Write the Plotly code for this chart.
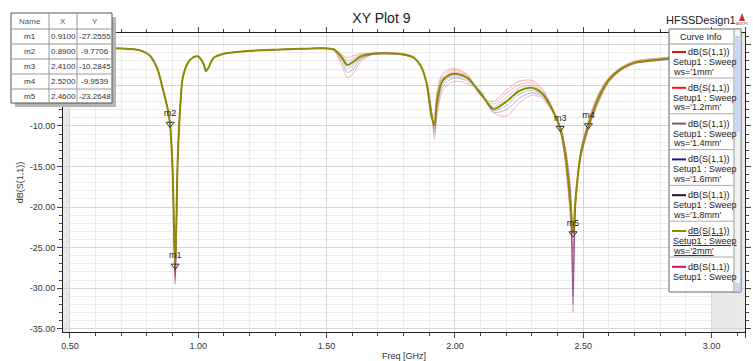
import plotly.graph_objects as go

W, H = 753, 361
ML, MR, MT, MB = 63, 8, 33, 29
FONT = "Liberation Sans, Arial, sans-serif"

# ---------------- data ----------------
freq_ghz = [0.50, 0.60, 0.70, 0.75, 0.78, 0.81, 0.84, 0.86, 0.88, 0.89,
            0.90, 0.91, 0.92, 0.93, 0.94, 0.96, 0.98, 1.00, 1.02, 1.03,
            1.04, 1.06, 1.10, 1.20, 1.30, 1.40, 1.50, 1.53, 1.56, 1.58,
            1.60, 1.63, 1.67, 1.72, 1.80, 1.84, 1.87, 1.89, 1.91, 1.92,
            1.93, 1.95, 1.98, 2.01, 2.05, 2.10, 2.15, 2.20, 2.25, 2.30,
            2.34, 2.38, 2.41, 2.43, 2.45, 2.46, 2.47, 2.49, 2.52, 2.56,
            2.60, 2.65, 2.70, 2.80, 2.90, 3.00]

s11_ws1p0 = [-0.40, -0.40, -0.45, -0.55, -0.75, -1.30, -2.90, -5.20, -7.80, -9.77,
             -15.5, -28.5, -14.0, -7.50, -4.00, -2.20, -1.55, -1.45, -2.30, -3.25,
             -2.80, -1.60, -1.10, -0.75, -0.60, -0.50, -0.45, -0.55, -1.20, -1.60,
             -1.40, -1.15, -1.05, -1.00, -1.10, -1.50, -2.70, -5.00, -8.80, -8.50,
             -5.80, -3.60, -3.00, -3.00, -3.70, -6.30, -7.00, -5.60, -4.50, -4.40,
             -5.40, -7.80, -10.6, -14.5, -21.5, -25.5, -19.5, -13.0, -9.30, -6.00,
             -4.00, -2.70, -2.00, -1.60, -1.35, -1.15]

s11_ws1p2 = [-0.40, -0.40, -0.45, -0.55, -0.75, -1.30, -2.90, -5.20, -7.80, -9.77,
             -15.5, -29.0, -14.0, -7.50, -4.00, -2.20, -1.55, -1.45, -2.30, -3.25,
             -2.80, -1.60, -1.10, -0.75, -0.60, -0.50, -0.45, -0.55, -1.35, -1.90,
             -1.70, -1.30, -1.10, -1.00, -1.15, -1.55, -2.75, -4.90, -9.00, -9.00,
             -6.20, -3.90, -3.20, -3.20, -3.80, -6.20, -7.30, -6.00, -4.90, -4.70,
             -5.60, -7.90, -10.5, -14.2, -21.0, -28.0, -20.0, -13.2, -9.50, -6.10,
             -4.10, -2.80, -2.10, -1.70, -1.40, -1.20]

s11_ws1p4 = [-0.40, -0.40, -0.45, -0.55, -0.75, -1.30, -2.90, -5.20, -7.80, -9.77,
             -15.5, -28.0, -14.0, -7.50, -4.00, -2.20, -1.55, -1.45, -2.30, -3.25,
             -2.80, -1.60, -1.10, -0.75, -0.60, -0.50, -0.45, -0.60, -1.45, -2.20,
             -1.95, -1.40, -1.12, -1.03, -1.18, -1.58, -2.78, -4.85, -9.00, -9.50,
             -6.60, -4.20, -3.45, -3.40, -3.95, -6.10, -7.60, -6.50, -5.30, -5.00,
             -5.80, -7.95, -10.4, -13.9, -20.2, -30.0, -19.5, -13.3, -9.70, -6.30,
             -4.20, -2.85, -2.15, -1.75, -1.45, -1.25]

s11_ws1p6 = [-0.40, -0.40, -0.45, -0.55, -0.75, -1.30, -2.90, -5.20, -7.80, -9.77,
             -15.5, -27.8, -14.0, -7.50, -4.00, -2.20, -1.55, -1.45, -2.30, -3.25,
             -2.80, -1.60, -1.10, -0.75, -0.60, -0.50, -0.45, -0.65, -1.80, -2.90,
             -2.60, -1.70, -1.20, -1.07, -1.22, -1.62, -2.85, -4.75, -8.80, -10.4,
             -7.50, -4.90, -4.00, -3.85, -4.30, -5.90, -8.10, -7.50, -6.10, -5.60,
             -6.20, -8.10, -10.2, -13.2, -18.8, -31.0, -19.0, -13.6, -10.1, -6.70,
             -4.40, -3.00, -2.25, -1.85, -1.55, -1.35]

s11_ws1p8 = [-0.40, -0.40, -0.45, -0.55, -0.75, -1.30, -2.90, -5.20, -7.80, -9.77,
             -15.5, -29.5, -14.0, -7.50, -4.00, -2.20, -1.55, -1.45, -2.30, -3.25,
             -2.80, -1.60, -1.10, -0.75, -0.60, -0.50, -0.45, -0.70, -2.20, -3.40,
             -3.10, -1.90, -1.25, -1.10, -1.25, -1.65, -2.90, -4.70, -8.60, -10.9,
             -8.00, -5.30, -4.30, -4.10, -4.50, -5.80, -8.30, -8.00, -6.60, -5.90,
             -6.40, -8.20, -10.1, -12.9, -18.0, -32.0, -19.0, -13.8, -10.3, -6.90,
             -4.50, -3.05, -2.30, -1.90, -1.60, -1.40]

s11_ws2p0 = [-0.40, -0.40, -0.45, -0.55, -0.75, -1.30, -2.90, -5.20, -7.80, -9.77,
             -15.5, -27.26, -14.0, -7.50, -4.00, -2.20, -1.55, -1.45, -2.30, -3.25,
             -2.80, -1.60, -1.10, -0.75, -0.60, -0.50, -0.45, -0.60, -1.60, -2.50,
             -2.20, -1.50, -1.15, -1.05, -1.20, -1.60, -2.80, -4.80, -9.00, -9.90,
             -7.00, -4.50, -3.70, -3.60, -4.10, -6.00, -7.90, -7.00, -5.70, -5.30,
             -6.00, -8.00, -10.28, -13.5, -19.5, -23.26, -19.0, -13.5, -9.95, -6.50,
             -4.30, -2.90, -2.20, -1.80, -1.50, -1.30]

s11_ws2p2 = [-0.40, -0.40, -0.45, -0.55, -0.75, -1.30, -2.90, -5.20, -7.80, -9.77,
             -15.5, -28.8, -14.0, -7.50, -4.00, -2.20, -1.55, -1.45, -2.30, -3.25,
             -2.80, -1.60, -1.10, -0.75, -0.60, -0.50, -0.45, -0.75, -2.60, -4.00,
             -3.70, -2.20, -1.30, -1.12, -1.28, -1.70, -2.95, -4.60, -8.20, -11.6,
             -8.80, -5.80, -4.70, -4.50, -4.80, -5.70, -8.40, -8.80, -7.20, -6.20,
             -6.60, -8.30, -10.0, -12.6, -17.5, -33.0, -18.5, -14.0, -10.5, -7.10,
             -4.60, -3.10, -2.35, -1.95, -1.65, -1.45]

series_values = [s11_ws1p0, s11_ws1p2, s11_ws1p4, s11_ws1p6, s11_ws1p8, s11_ws2p0, s11_ws2p2]
series_labels = ["ws='1mm'", "ws='1.2mm'", "ws='1.4mm'", "ws='1.6mm'",
                 "ws='1.8mm'", "ws='2mm'", "ws='2.2mm'"]
series_colors = ["#e01010", "#ff1010", "#7a5a6a", "#1a1aa0", "#2a0a3a", "#8c8c00", "#d0106a"]
selected_index = 5

marker_names = ["m1", "m2", "m3", "m4", "m5"]
marker_x = [0.9100, 0.8900, 2.4100, 2.5200, 2.4600]
marker_y = [-27.2555, -9.7706, -10.2845, -9.9539, -23.2648]

x_tickvals = [0.5, 1.0, 1.5, 2.0, 2.5, 3.0, 3.13]
x_ticktext = ["0.50", "1.00", "1.50", "2.00", "2.50", "3.00", "3.13"]
y_tickvals = [0, -5, -10, -15, -20, -25, -30, -35]
# 0.00 and -5.00 sit behind the marker table in the reference
y_ticktext = ["", "", "-10.00", "-15.00", "-20.00", "-25.00", "-30.00", "-35.00"]

# ---------------- helpers (pixel -> paper) ----------------
PW, PH = W - ML - MR, H - MT - MB


def px(x):
    return (x - ML) / PW


def py(y):
    return 1 - (y - MT) / PH


fig = go.Figure()

order = [0, 1, 2, 3, 4, 6, 5]
for i in order:
    sel = i == selected_index
    fig.add_trace(go.Scatter(
        x=freq_ghz, y=series_values[i], mode="lines",
        line=dict(color=series_colors[i], width=2 if sel else 1, shape="spline", smoothing=0.8),
        opacity=1.0 if sel else 0.3, showlegend=False, hoverinfo="skip"))

fig.add_trace(go.Scatter(
    x=marker_x, y=marker_y, mode="markers+text", text=marker_names,
    textposition="top center", textfont=dict(family=FONT, size=9, color="#222"),
    marker=dict(symbol="triangle-down-open", size=7, color="#333", line=dict(width=1, color="#333")),
    showlegend=False, hoverinfo="skip", cliponaxis=False))

shapes = []
annotations = []

# shaded areas outside sweep
for x0, x1 in [(0.473, 0.5), (3.0, 3.13)]:
    shapes.append(dict(type="rect", xref="x", yref="paper", x0=x0, x1=x1, y0=0, y1=1,
                       fillcolor="#e9e9e9", line=dict(width=0), layer="below"))

# ---------------- marker table ----------------
tx0, tx1, ty0, ty1 = 11, 112, 13, 103
shapes.append(dict(type="rect", xref="paper", yref="paper", x0=px(tx0 + 4), x1=px(tx1 + 4),
                   y0=py(ty1 + 4), y1=py(ty0 + 4), fillcolor="#b5b5b5", line=dict(width=0), layer="above"))
shapes.append(dict(type="rect", xref="paper", yref="paper", x0=px(tx0), x1=px(tx1),
                   y0=py(ty1), y1=py(ty0), fillcolor="white", line=dict(color="#555", width=1), layer="above"))
col_x = [49, 77]
for cx in col_x:
    shapes.append(dict(type="line", xref="paper", yref="paper", x0=px(cx), x1=px(cx),
                       y0=py(ty1), y1=py(ty0), line=dict(color="#999", width=1), layer="above"))
row_y = [29, 44, 59, 74, 89]
for ry in row_y:
    shapes.append(dict(type="line", xref="paper", yref="paper", x0=px(tx0), x1=px(tx1),
                       y0=py(ry), y1=py(ry), line=dict(color="#999", width=1), layer="above"))
col_centers = [30, 63, 95]
for txt, cx in zip(["Name", "X", "Y"], col_centers):
    annotations.append(dict(xref="paper", yref="paper", x=px(cx), y=py(21.5), text=txt,
                            showarrow=False, font=dict(family=FONT, size=8, color="#555"),
                            xanchor="center", yanchor="middle"))
for k in range(len(marker_names)):
    yy = py(36.5 + 15 * k)
    vals = [marker_names[k], f"{marker_x[k]:.4f}", f"{marker_y[k]:.4f}"]
    for v, cx in zip(vals, col_centers):
        annotations.append(dict(xref="paper", yref="paper", x=px(cx), y=yy, text=v,
                                showarrow=False, font=dict(family=FONT, size=8, color="#333"),
                                xanchor="center", yanchor="middle"))

# ---------------- curve info panel ----------------
lx0, lx1, ly0, ly1 = 669, 734, 29, 292
shapes.append(dict(type="rect", xref="paper", yref="paper", x0=px(lx0), x1=px(741),
                   y0=py(ly1), y1=py(ly0), fillcolor="white", line=dict(color="#666", width=1), layer="above"))
shapes.append(dict(type="rect", xref="paper", yref="paper", x0=px(734), x1=px(741),
                   y0=py(ly1), y1=py(ly0), fillcolor="#f2f2f2", line=dict(color="#999", width=1), layer="above"))
shapes.append(dict(type="rect", xref="paper", yref="paper", x0=px(734.5), x1=px(740.5),
                   y0=py(132), y1=py(36), fillcolor="#c8d8f0", line=dict(width=0), layer="above"))
shapes.append(dict(type="rect", xref="paper", yref="paper", x0=px(734.5), x1=px(740.5),
                   y0=py(291), y1=py(283), fillcolor="#c8d8f0", line=dict(width=0), layer="above"))
shapes.append(dict(type="line", xref="paper", yref="paper", x0=px(lx0), x1=px(lx1),
                   y0=py(44), y1=py(44), line=dict(color="#999", width=1), layer="above"))
annotations.append(dict(xref="paper", yref="paper", x=px(701), y=py(36.5), text="Curve Info",
                        showarrow=False, font=dict(family=FONT, size=9, color="#222"),
                        xanchor="center", yanchor="middle"))
annotations.append(dict(xref="paper", yref="paper", x=px(701), y=py(20), text="HFSSDesign1",
                        showarrow=False, font=dict(family=FONT, size=11, color="#222"),
                        xanchor="center", yanchor="middle"))
# Ansoft logo
shapes.append(dict(type="path", xref="paper", yref="paper",
                   path=f"M {px(739)} {py(21)} L {px(745)} {py(21)} L {px(742)} {py(13)} Z",
                   fillcolor="#c03030", line=dict(width=0), layer="above"))
annotations.append(dict(xref="paper", yref="paper", x=px(742), y=py(24), text="ANSOFT",
                        showarrow=False, font=dict(family=FONT, size=3, color="#884444"),
                        xanchor="center", yanchor="middle"))

n_series = len(series_labels)
for i in range(n_series):
    y0 = 52 + 35.8 * i
    sel = i == selected_index
    shapes.append(dict(type="line", xref="paper", yref="paper", x0=px(672), x1=px(686),
                       y0=py(y0), y1=py(y0), line=dict(color=series_colors[i], width=2), layer="above"))
    lines = [("dB(S(1,1))", 732, "right", y0), ("Setup1 : Sweep", 671, "left", y0 + 10)]
    if i < n_series - 1:  # last entry is clipped by the scroll panel
        lines.append((series_labels[i], 671, "left", y0 + 19.5))
    for txt, xx, anc, yy in lines:
        annotations.append(dict(xref="paper", yref="paper", x=px(xx), y=py(yy),
                                text=f"<u>{txt}</u>" if sel else txt,
                                showarrow=False, font=dict(family=FONT, size=9, color="#222"),
                                xanchor=anc, yanchor="middle"))
    sep = y0 + 26
    if sep < ly1:
        shapes.append(dict(type="line", xref="paper", yref="paper", x0=px(lx0), x1=px(lx1),
                           y0=py(sep), y1=py(sep), line=dict(color="#aaa", width=1), layer="above"))

axis_common = dict(showline=True, linecolor="#222", linewidth=1, mirror="ticks",
                   ticks="outside", ticklen=5, tickcolor="#444",
                   tickfont=dict(family=FONT, size=9, color="#333"), zeroline=False,
                   showgrid=True, gridcolor="#d6d6d6", gridwidth=1)

fig.update_layout(
    width=W, height=H,
    margin=dict(l=ML, r=MR, t=MT, b=MB, autoexpand=False),
    paper_bgcolor="white", plot_bgcolor="white",
    title=dict(text="XY Plot 9", x=(ML + PW / 2) / W - 0.03, xanchor="center", y=1 - 18 / H, yanchor="middle",
               font=dict(family=FONT, size=14, color="#222")),
    xaxis=dict(range=[0.473, 3.13], tickmode="array", tickvals=x_tickvals, ticktext=x_ticktext,
               minor=dict(tickmode="linear", tick0=0.5, dtick=0.1, showgrid=True, gridcolor="#ececec",
                          ticks="outside", ticklen=3, tickcolor="#444"),
               title=dict(text="Freq [GHz]", standoff=2, font=dict(family=FONT, size=9, color="#333")),
               **axis_common),
    yaxis=dict(range=[-35.4, 1.45], tickmode="array", tickvals=y_tickvals, ticktext=y_ticktext,
               minor=dict(tickmode="linear", tick0=0, dtick=1, showgrid=True, gridcolor="#ececec",
                          ticks="outside", ticklen=3, tickcolor="#444"),
               title=dict(text="dB(S(1,1))", standoff=4, font=dict(family=FONT, size=9, color="#333")),
               **axis_common),
    shapes=shapes, annotations=annotations,
    font=dict(family=FONT),
)

fig.write_html("out.html")
